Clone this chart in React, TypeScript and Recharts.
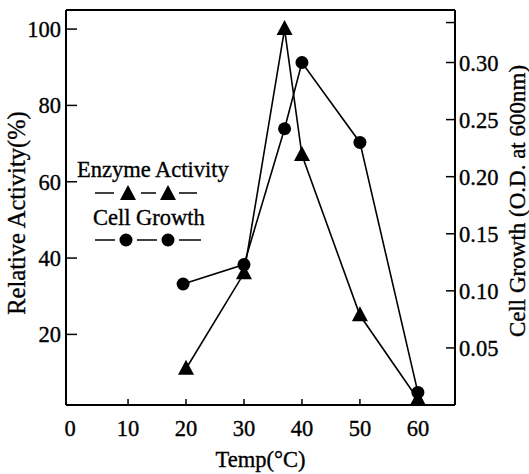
import { ComposedChart, Line, XAxis, YAxis, ReferenceLine, Label } from 'recharts';

const xTicks = [0, 10, 20, 30, 40, 50, 60];
const activityTicks = [20, 40, 60, 80, 100];
const growthTicks = [0.05, 0.1, 0.15, 0.2, 0.25, 0.3, 0.335];

// Enzyme activity, relative % (left axis)
const activityTemp = [20, 30, 37, 40, 50, 60];
const activityVals = [11, 36, 100, 67, 25, 3];

// Cell growth, O.D. at 600nm (right axis)
const growthTemp = [19.5, 30, 37, 40, 50, 60];
const growthVals = [0.106, 0.123, 0.242, 0.3, 0.23, 0.011];

const activityData = activityTemp.map((t, i) => ({ t, activity: activityVals[i] }));
const growthData = growthTemp.map((t, i) => ({ t, growth: growthVals[i] }));

const FONT = '"Liberation Serif", "Times New Roman", serif';
const txt = { fontFamily: FONT, fontSize: 22.5, fill: '#000', stroke: '#000', strokeWidth: 0.35 };

const Triangle = ({ cx, cy }: any) => (
    <path d={`M${cx},${cy - 9} L${cx + 8},${cy + 6} L${cx - 8},${cy + 6} Z`} fill="#000" />
);
const Dot = ({ cx, cy }: any) => <circle cx={cx} cy={cy} r={6.5} fill="#000" />;

const XTick = ({ x, y, payload }: any) => (
    <g>
        {payload.value !== 0 && <line x1={x} x2={x} y1={y} y2={y - 6} stroke="#000" strokeWidth={1.5} />}
        <text x={x} y={y + 31} textAnchor="middle" {...txt}>{payload.value}</text>
    </g>
);

const LeftTick = ({ x, y, payload }: any) => (
    <g>
        <line x1={x} x2={x + 11} y1={y} y2={y} stroke="#000" strokeWidth={1.5} />
        <text x={x - 5} y={y + 8} textAnchor="end" {...txt}>{payload.value}</text>
    </g>
);

const RightTick = ({ x, y, payload }: any) => (
    <g>
        <line x1={x} x2={x - 9} y1={y} y2={y} stroke="#000" strokeWidth={1.5} />
        {payload.value < 0.33 && (
            <text x={x + 4} y={y + 8} textAnchor="start" {...txt}>{payload.value.toFixed(2)}</text>
        )}
    </g>
);

// legend drawn as a sibling overlay so it doesn't eat plot space
const ChartLegend = () => (
    <svg width={180} height={100} style={{ position: 'absolute', left: 70, top: 150 }}>
        <text x={7} y={27} {...txt}>Enzyme Activity</text>
        <g stroke="#000" strokeWidth={1.5}>
            <line x1={25} x2={44} y1={43} y2={43} />
            <line x1={71} x2={86} y1={43} y2={43} />
            <line x1={109} x2={127} y1={43} y2={43} />
        </g>
        <Triangle cx={58} cy={44} />
        <Triangle cx={98} cy={44} />
        <text x={23} y={75} {...txt}>Cell Growth</text>
        <g stroke="#000" strokeWidth={1.5}>
            <line x1={25} x2={45} y1={90} y2={90} />
            <line x1={67} x2={87} y1={90} y2={90} />
            <line x1={109} x2={131} y1={90} y2={90} />
        </g>
        <Dot cx={56} cy={90} />
        <Dot cx={98} cy={90} />
    </svg>
);

export default function App() {
    return (
        <div style={{ position: 'absolute', left: 0, top: 0, width: 529, height: 474, background: '#fff' }}>
            <ComposedChart width={529} height={474} margin={{ top: 10, right: 0, bottom: 0, left: 0 }}>
                <XAxis
                    dataKey="t"
                    type="number"
                    domain={[-0.7, 66.4]}
                    ticks={xTicks}
                    allowDataOverflow
                    height={69}
                    tickSize={0}
                    tickMargin={0}
                    tickLine={false}
                    tick={<XTick />}
                    axisLine={{ stroke: '#000', strokeWidth: 2 }}
                >
                    <Label
                        content={({ viewBox }: any) => (
                            <text x={viewBox.x + viewBox.width / 2} y={viewBox.y + 62} textAnchor="middle" {...txt}>Temp(°C)</text>
                        )}
                    />
                </XAxis>
                <YAxis
                    yAxisId="left"
                    type="number"
                    domain={[1.5, 105]}
                    ticks={activityTicks}
                    allowDataOverflow
                    width={66}
                    tickSize={0}
                    tickMargin={0}
                    tickLine={false}
                    tick={<LeftTick />}
                    axisLine={{ stroke: '#000', strokeWidth: 2 }}
                >
                    <Label
                        content={() => (
                            <text x={16} y={213} textAnchor="middle" dominantBaseline="central" transform="rotate(-90 16 213)" {...txt} fontSize={24.5}>Relative Activity(%)</text>
                        )}
                    />
                </YAxis>
                <YAxis
                    yAxisId="right"
                    orientation="right"
                    type="number"
                    domain={[0, 0.346]}
                    ticks={growthTicks}
                    allowDataOverflow
                    width={74}
                    tickSize={0}
                    tickMargin={0}
                    tickLine={false}
                    tick={<RightTick />}
                    axisLine={{ stroke: '#000', strokeWidth: 2 }}
                >
                    <Label
                        content={() => (
                            <text x={517} y={201} textAnchor="middle" dominantBaseline="central" transform="rotate(-90 517 201)" {...txt} fontSize={23}>Cell Growth (O.D. at 600nm)</text>
                        )}
                    />
                </YAxis>
                <ReferenceLine yAxisId="left" y={105} stroke="#000" strokeWidth={2} />
                <Line
                    yAxisId="left"
                    data={activityData}
                    dataKey="activity"
                    name="Enzyme Activity"
                    stroke="#000"
                    strokeWidth={1.6}
                    dot={<Triangle />}
                    activeDot={false}
                    isAnimationActive={false}
                />
                <Line
                    yAxisId="right"
                    data={growthData}
                    dataKey="growth"
                    name="Cell Growth"
                    stroke="#000"
                    strokeWidth={1.6}
                    dot={<Dot />}
                    activeDot={false}
                    isAnimationActive={false}
                />
            </ComposedChart>
            <ChartLegend />
        </div>
    );
}
